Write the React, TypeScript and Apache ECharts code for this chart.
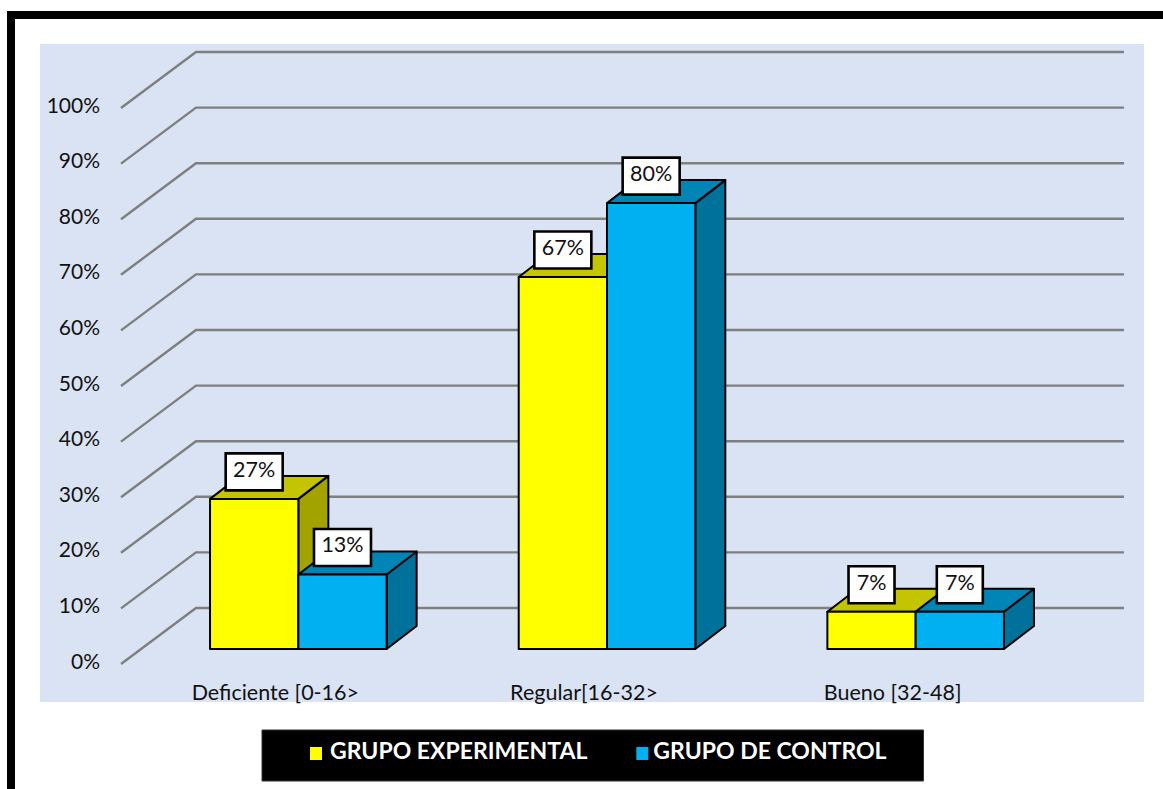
import React, { useEffect, useRef } from "react";
import * as echarts from "echarts";

const categories = ["Deficiente [0-16>", "Regular[16-32>", "Bueno [32-48]"];
const grupoExperimental = [27, 66.9, 6.7];
const grupoControl = [13.4, 80.2, 6.7];
const printedExperimental = ["27%", "67%", "7%"];
const printedControl = ["13%", "80%", "7%"];
const ticks = [0, 10, 20, 30, 40, 50, 60, 70, 80, 90, 100];

const FONT = "Lato";
const DX = 75, DY = -56; // wall depth
const BX = 30, BY = -23; // bar depth
const FLOOR_X = 23, FLOOR_Y = -15; // bars stand mid-floor
const BAR_W = 88.3;

const barSeries = (
  name: string,
  values: number[],
  printed: string[],
  side: -1 | 1,
  front: string,
  top: string,
  right: string
) => ({
  type: "custom" as const,
  name,
  coordinateSystem: "cartesian2d",
  itemStyle: { color: front },
  encode: { x: 0, y: 1 },
  data: values.map((v, i) => [i, v]),
  z: 5,
  renderItem: (_p: any, api: any) => {
    const idx = api.value(0);
    const val = api.value(1);
    const t = api.coord([idx, val]);
    const b = api.coord([idx, 0]);
    const xc = t[0] + FLOOR_X;
    const x0 = side < 0 ? xc - BAR_W : xc;
    const x1 = x0 + BAR_W;
    const yT = t[1] + FLOOR_Y;
    const yB = b[1] + FLOOR_Y;
    const line = { stroke: "#000", lineWidth: 2, lineJoin: "round" };
    const text = printed[idx];
    const lw = text.length > 2 ? 57 : 46;
    const lx = (x0 + x1) / 2;
    const ly = yT - 27;
    return {
      type: "group",
      children: [
        {
          type: "polygon",
          shape: { points: [[x1, yT], [x1 + BX, yT + BY], [x1 + BX, yB + BY], [x1, yB]] },
          style: { fill: right, ...line },
        },
        {
          type: "polygon",
          shape: { points: [[x0, yT], [x0 + BX, yT + BY], [x1 + BX, yT + BY], [x1, yT]] },
          style: { fill: top, ...line },
        },
        {
          type: "rect",
          shape: { x: x0, y: yT, width: BAR_W, height: yB - yT },
          style: { fill: front, ...line },
        },
        {
          type: "rect",
          shape: { x: lx - lw / 2, y: ly - 18.5, width: lw, height: 37 },
          style: { fill: "#fff", stroke: "#000", lineWidth: 2.6 },
        },
        {
          type: "text",
          x: lx,
          y: ly - 3,
          style: {
            text,
            fill: "#111",
            font: `21.5px ${FONT}`,
            align: "center",
            verticalAlign: "middle",
          },
        },
      ],
    };
  },
});

export default function App() {
  const ref = useRef<HTMLDivElement>(null);
  useEffect(() => {
    const chart = echarts.init(ref.current!, null, { renderer: "svg" });
    const legendText = { color: "#fff", fontFamily: FONT, fontWeight: "bold", fontSize: 23 };
    chart.setOption({
      animation: false,
      backgroundColor: "#fff",
      grid: { left: 121, top: 108, width: 926, height: 556 },
      xAxis: {
        type: "category",
        data: categories,
        axisLine: { show: false },
        axisTick: { show: false },
        splitLine: { show: false },
        axisLabel: { color: "#111", fontFamily: FONT, fontSize: 21.5, margin: 17, interval: 0 },
      },
      yAxis: {
        type: "value",
        min: 0,
        max: 100,
        interval: 10,
        axisLine: { show: false },
        axisTick: { show: false },
        splitLine: { show: false },
        axisLabel: {
          color: "#111",
          fontFamily: FONT,
          fontSize: 21,
          margin: 21,
          formatter: "{value}%",
          verticalAlign: "bottom",
          lineHeight: 8,
        },
      },
      legend: {
        left: 262,
        top: 730,
        data: ["GRUPO EXPERIMENTAL", "GRUPO DE CONTROL"],
        backgroundColor: "#000",
        borderColor: "#333",
        borderWidth: 1,
        padding: [8, 37, 20, 48],
        itemWidth: 12,
        itemHeight: 13,
        itemGap: 49,
        icon: "rect",
        selectedMode: false,
        formatter: (name: string) => (name === "GRUPO EXPERIMENTAL" ? `{a|${name}}` : `{b|${name}}`),
        textStyle: {
          ...legendText,
          rich: {
            a: { ...legendText, padding: [0, 0, 8, 3] },
            b: { ...legendText, padding: [0, 0, 8, 0] },
          },
        },
      },
      graphic: [
        { type: "rect", z: 0, shape: { x: 7, y: 11, width: 1156, height: 8 }, style: { fill: "#000" } },
        { type: "rect", z: 0, shape: { x: 7, y: 11, width: 8, height: 778 }, style: { fill: "#000" } },
        { type: "rect", z: 0, shape: { x: 40, y: 44, width: 1104, height: 658 }, style: { fill: "#DAE3F3" } },
      ],
      series: [
        {
          type: "custom",
          name: "rejilla",
          coordinateSystem: "cartesian2d",
          z: 3,
          encode: { x: 0, y: 1 },
          data: ticks.map((v) => [0, v]),
          renderItem: (params: any, api: any) => {
            const p = api.coord([0, api.value(1)]);
            const left = params.coordSys.x;
            const right = left + params.coordSys.width;
            return {
              type: "polyline",
              shape: {
                points: [
                  [left, p[1]],
                  [left + DX, p[1] + DY],
                  [right + DX + 2, p[1] + DY],
                ],
              },
              style: { stroke: "#7F7F7F", lineWidth: 2.4, fill: "none" },
            };
          },
        },
        barSeries("GRUPO EXPERIMENTAL", grupoExperimental, printedExperimental, -1, "#FFFF00", "#C4C400", "#A3A300"),
        barSeries("GRUPO DE CONTROL", grupoControl, printedControl, 1, "#00B0F0", "#0085B6", "#00719B"),
      ],
    });
    return () => chart.dispose();
  }, []);
  return <div ref={ref} style={{ position: "absolute", left: 0, top: 0, width: 1163, height: 789 }} />;
}
